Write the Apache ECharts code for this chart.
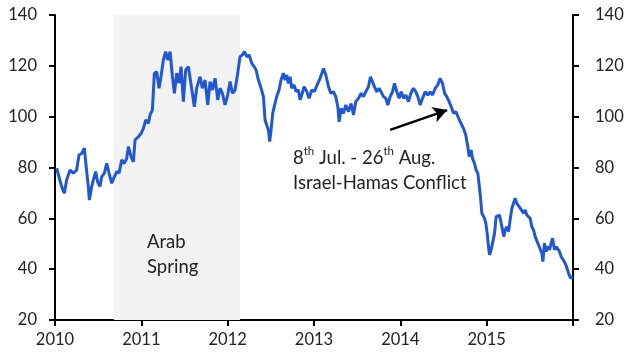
<!DOCTYPE html>
<html><head><meta charset="utf-8">
<script src="https://cdn.jsdelivr.net/npm/echarts@6/dist/echarts.min.js"></script>
<style>html,body{margin:0;padding:0;background:#fff}#c{width:627px;height:359px}</style>
</head><body><div id="c"></div>
<script>
const years = [
2010.019,2010.039,2010.077,2010.108,2010.135,2010.174,2010.212,2010.251,2010.278,2010.309,
2010.340,2010.367,2010.386,2010.398,2010.425,2010.444,2010.471,2010.494,2010.521,2010.541,
2010.572,2010.599,2010.626,2010.657,2010.688,2010.715,2010.742,2010.773,2010.800,2010.830,
2010.850,2010.881,2010.908,2010.927,2010.966,2010.997,2011.024,2011.051,2011.082,2011.101,
2011.128,2011.151,2011.178,2011.205,2011.228,2011.255,2011.282,2011.306,2011.333,2011.360,
2011.383,2011.410,2011.437,2011.460,2011.487,2011.514,2011.545,
2011.564,2011.591,2011.614,2011.641,2011.680,2011.707,2011.738,2011.769,2011.796,2011.823,
2011.854,2011.885,2011.912,2011.939,2011.970,2012.000,2012.028,2012.055,2012.085,2012.116,
2012.143,2012.170,2012.194,2012.221,2012.248,2012.279,2012.306,2012.329,2012.356,2012.387,
2012.414,2012.433,2012.452,2012.472,2012.487,2012.503,2012.522,2012.549,2012.568,2012.595,
2012.618,2012.645,2012.665,2012.684,2012.703,2012.723,2012.742,2012.769,2012.792,2012.819,
2012.839,2012.858,2012.885,2012.916,2012.943,2012.974,2013.005,
2013.044,2013.071,2013.110,2013.137,2013.168,2013.195,2013.225,2013.252,2013.276,2013.291,
2013.314,2013.341,2013.368,2013.399,2013.430,2013.457,2013.484,2013.515,2013.546,2013.573,
2013.600,2013.631,2013.654,2013.677,2013.700,2013.728,2013.755,2013.778,2013.805,2013.832,
2013.855,2013.882,2013.909,2013.932,2013.959,2013.986,2014.010,2014.037,2014.064,2014.095,
2014.122,2014.152,2014.179,2014.203,2014.230,2014.257,2014.288,2014.319,2014.346,2014.373,
2014.404,2014.434,2014.461,2014.489,2014.512,
2014.538,2014.565,2014.596,2014.616,2014.643,2014.666,2014.693,2014.712,2014.731,2014.758,
2014.782,2014.797,2014.820,2014.836,2014.859,2014.878,2014.898,2014.913,2014.928,2014.944,
2014.975,2014.990,2015.006,2015.021,2015.033,2015.052,2015.071,2015.091,2015.110,2015.129,
2015.149,2015.168,2015.183,2015.199,2015.214,2015.234,2015.253,2015.272,2015.292,2015.311,
2015.330,2015.349,2015.369,2015.388,2015.407,2015.427,2015.446,2015.465,2015.485,2015.504,
2015.523,2015.543,2015.562,2015.581,2015.601,2015.620,2015.639,2015.651,2015.670,2015.689,
2015.709,2015.728,2015.747,2015.763,2015.786,2015.805,2015.824,2015.844,2015.863,2015.879,
2015.898,2015.917,2015.936,2015.956,2015.975,2015.988,2015.998
];
const price = [
79.7,80.3,72.5,69.9,75.1,79,77.8,79,84.9,85.5,
87.6,78.4,72.5,67.2,72.5,75,78.4,74.4,72.5,76.4,
77.8,81.6,77.8,73.8,76.4,78.4,77.8,83,81.6,83.5,
88.2,84.3,82.2,90.8,92.1,93.4,95.4,98.7,97.4,100.7,
102.6,117,117.7,111.2,115.8,122.3,125.6,122.3,125.6,115.8,
109.2,117.1,113.2,119.7,105.9,118.4,119.7,
119,109.2,103.9,111.2,115.7,111.2,114.4,104.6,113.8,110.5,
115.1,106.6,111.2,109.2,104.6,108.5,113.8,109.2,110.5,117.1,
123.6,124.3,125.6,123.6,124.3,121,119.7,118.4,114.4,111.2,
107.9,98.7,96.7,94.8,90.2,94.8,101.3,105.3,107.9,110.5,
114.4,117.1,114.4,116.4,113.1,115.7,111.2,112.5,109.9,110.5,
106.6,108.5,111.8,109.9,107.2,110.5,109.9,
113.1,115.1,119,116.4,111.8,109.2,109.8,107.9,103.9,98,
103.3,101.3,104.6,102,105.2,100.7,105.9,107.2,109.2,107.9,
109.8,111.8,115.7,116.4,111.8,109.8,111.2,110.5,107.9,107.2,
104.6,107.9,109.8,113.1,109.8,107.2,109.8,107.2,108.5,105.9,
109.2,111.2,109.8,107.9,104.6,107.2,109.8,108.5,109.8,108.5,
111.2,112.5,115.1,113.1,109.2,
107.9,105.9,103.3,101.3,102,101.3,98,97.4,95.4,92.8,
88.2,84.3,86.9,83.6,81.6,79,77.7,73.1,68.5,62,
60,58.1,54.1,48.9,45.6,47.6,48.2,54.1,60.7,61.3,
61.3,58.1,58.7,52.8,55.4,56.7,54.8,59.4,64,65.9,
67.9,65.9,65.3,64,64.6,62,63.3,61.3,60.7,60,
56.7,55.4,52.8,52.2,49.5,48.9,46.3,43,50.2,46.9,
48.9,47.6,50.2,52.2,47.6,48.9,49.5,46.9,44.9,45.6,
43,41.7,41,37.7,36.4,36.4,37
];
const yTicks = [20,40,60,80,100,120,140];
const xTicks = [2010,2011,2012,2013,2014,2015];
const shadeRange = [2010.684, 2012.144];
const arrowFrom = [2013.882, 94.8];
const arrowTo = [2014.542, 102.6];

const font = 'Lato, "Noto Sans", sans-serif';
const data = years.map((y,i)=>[y, price[i]]);
const chart = echarts.init(document.getElementById('c'), null, {renderer:'canvas'});
const yAxisBase = {
  type:'value', min:yTicks[0], max:yTicks[yTicks.length-1], interval:20,
  axisLine:{show:true, lineStyle:{color:'#000', width:2}},
  axisTick:{show:true, length:6, lineStyle:{color:'#000', width:2}},
  splitLine:{show:false},
  axisLabel:{color:'#222', fontSize:16.5, fontFamily:font}
};
chart.setOption({
  animation:false,
  grid:{left:55, right:54, top:15, bottom:39, containLabel:false},
  xAxis:{
    type:'value', min:2010, max:2016, interval:1,
    axisLine:{lineStyle:{color:'#000', width:2}},
    axisTick:{show:true, length:6, lineStyle:{color:'#000', width:2}},
    splitLine:{show:false},
    axisLabel:{color:'#222', fontSize:16.5, fontFamily:font, margin:11,
      formatter: v => xTicks.includes(v) ? String(v) : ''}
  },
  yAxis:[
    Object.assign({}, yAxisBase, {position:'left', axisLabel:Object.assign({}, yAxisBase.axisLabel, {margin:18})}),
    Object.assign({}, yAxisBase, {position:'right', axisLabel:Object.assign({}, yAxisBase.axisLabel, {margin:22})})
  ],
  series:[{
    type:'line', data:data, showSymbol:false, yAxisIndex:0,
    lineStyle:{color:'#2157CF', width:3}, z:3,
    markArea:{silent:true, itemStyle:{color:'#f2f2f2'},
      data:[[{xAxis:shadeRange[0]},{xAxis:shadeRange[1]}]]},
    markLine:{silent:true, symbol:['none','arrow'], symbolSize:[12,14],
      lineStyle:{color:'#000', width:2.5, type:'solid'}, label:{show:false},
      data:[[{coord:arrowFrom},{coord:arrowTo}]]}
  }],
  graphic:[
    {type:'text', left:147, top:229.5, z:10, style:{text:'Arab\nSpring', fontSize:18.5, lineHeight:25, fontFamily:font, fill:'#222'}},
    {type:'text', left:293, top:145.5, z:10, style:{
      text:'{n|8}{s|th}{n| Jul. - 26}{s|th}{n| Aug.}\n{n|Israel-Hamas Conflict}',
      fontFamily:font, fill:'#222',
      rich:{
        n:{fontSize:18.5, lineHeight:25, fontFamily:font, fill:'#222'},
        s:{fontSize:11.5, lineHeight:25, fontFamily:font, fill:'#222', verticalAlign:'top'}
      }}}
  ]
});
</script></body></html>
